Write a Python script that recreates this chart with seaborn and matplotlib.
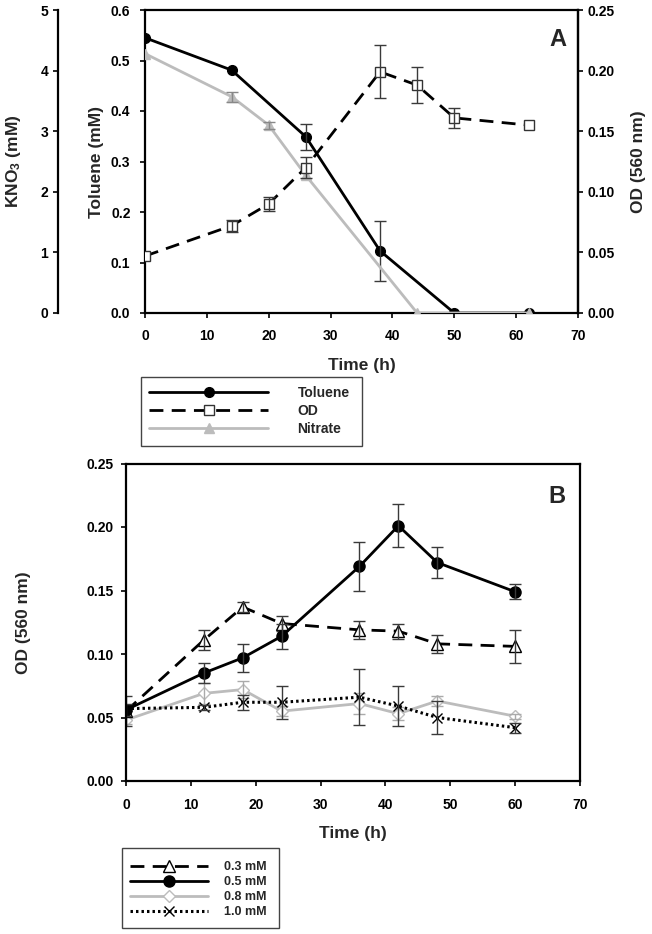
import matplotlib
matplotlib.use('Agg')
import matplotlib.pyplot as plt
import matplotlib.patches as mpatches
import numpy as np
import seaborn as sns

# ---- Panel A data ----
tol_time = [0, 14, 26, 38, 50, 62]
toluene = [0.545, 0.481, 0.349, 0.123, 0.0, 0.0]
toluene_err = [0, 0, 0.026, 0.06, 0, 0]

od_time = [0, 14, 20, 26, 38, 44, 50, 62]
od_a = [0.047, 0.072, 0.090, 0.120, 0.199, 0.188, 0.161, 0.155]
od_a_err = [0, 0.005, 0.006, 0.009, 0.022, 0.015, 0.008, 0]

nit_time = [0, 14, 20, 26, 44, 62]
nitrate = [4.28, 3.57, 3.10, 2.27, 0.0, 0.0]
nitrate_err = [0, 0.08, 0.06, 0, 0, 0]

# ---- Panel B data ----
b_time = [0, 12, 18, 24, 36, 42, 48, 60]
od_03 = [0.055, 0.111, 0.137, 0.124, 0.119, 0.118, 0.108, 0.106]
od_03_err = [0.012, 0.008, 0.004, 0.006, 0.007, 0.006, 0.007, 0.013]
od_05 = [0.056, 0.085, 0.097, 0.114, 0.169, 0.201, 0.172, 0.149]
od_05_err = [0.005, 0.008, 0.011, 0.010, 0.019, 0.017, 0.012, 0.006]
od_08 = [0.048, 0.069, 0.072, 0.055, 0.061, 0.053, 0.063, 0.051]
od_08_err = [0.003, 0.008, 0.007, 0.004, 0.008, 0.005, 0.004, 0.002]
od_10 = [0.057, 0.058, 0.062, 0.062, 0.066, 0.059, 0.050, 0.042]
od_10_err = [0.002, 0.002, 0.006, 0.013, 0.022, 0.016, 0.013, 0.004]

sns.set_theme(style='ticks')
plt.rcParams['font.family'] = ['Liberation Sans', 'DejaVu Sans']
plt.rcParams['font.weight'] = 'bold'
plt.rcParams['axes.labelweight'] = 'bold'
plt.rcParams['mathtext.fontset'] = 'custom'
plt.rcParams['mathtext.rm'] = 'Liberation Sans:bold'
plt.rcParams['mathtext.it'] = 'Liberation Sans:bold'
plt.rcParams['mathtext.bf'] = 'Liberation Sans:bold'
plt.rcParams['axes.linewidth'] = 1.6
plt.rcParams['xtick.major.width'] = 1.2
plt.rcParams['ytick.major.width'] = 1.2
plt.rcParams['xtick.major.size'] = 3.5
plt.rcParams['ytick.major.size'] = 3.5
plt.rcParams['xtick.color'] = 'black'
plt.rcParams['ytick.color'] = 'black'
plt.rcParams['axes.edgecolor'] = 'black'

GREY = '#bcbcbc'
ERR = '#3a3a3a'
TICK_FS = 10
LABEL_FS = 12.5

fig = plt.figure(figsize=(6.52, 9.34), dpi=100)


def errbars(ax, x, y, e, color=ERR, zorder=2):
    x, y, e = np.array(x), np.array(y), np.array(e)
    m = e > 0
    ax.errorbar(x[m], y[m], yerr=e[m], fmt='none', ecolor=color,
                elinewidth=1.0, capsize=4, capthick=1.0, zorder=zorder)


def legend_box(x0, y0, x1, y1):
    # frame drawn in pixel units of the 652x934 canvas
    fig.add_artist(mpatches.Rectangle((x0 / 652, 1 - y1 / 934),
                                      (x1 - x0) / 652, (y1 - y0) / 934,
                                      transform=fig.transFigure, fill=False,
                                      edgecolor='#444444', linewidth=1))


# ================= Panel A =================
ax = fig.add_axes([145 / 652, 1 - 313 / 934, 433 / 652, 303 / 934])
ax_n = ax.twinx()
ax_od = ax.twinx()

# KNO3 axis on the far left
ax_n.spines['left'].set_position(('axes', -0.201))
ax_n.spines['left'].set_visible(True)
for s in ['right', 'top', 'bottom']:
    ax_n.spines[s].set_visible(False)
ax_n.yaxis.set_ticks_position('left')
ax_n.yaxis.set_label_position('left')
for s in ['left', 'top', 'bottom']:
    ax_od.spines[s].set_visible(False)

# nitrate
sns.lineplot(x=nit_time, y=nitrate, ax=ax_n, color=GREY, linewidth=2,
             marker='^', markersize=6.5, markerfacecolor=GREY,
             markeredgecolor=GREY, markeredgewidth=1, errorbar=None)
errbars(ax_n, nit_time, nitrate, nitrate_err, color='#888888')
line_nit = ax_n.lines[0]

# toluene
sns.lineplot(x=tol_time, y=toluene, ax=ax, color='black', linewidth=2,
             marker='o', markersize=7, markerfacecolor='black',
             markeredgecolor='black', markeredgewidth=1, errorbar=None)
errbars(ax, tol_time, toluene, toluene_err)
line_tol = ax.lines[0]

# OD
sns.lineplot(x=od_time, y=od_a, ax=ax_od, color='black', linewidth=2,
             marker='s', markersize=7, markerfacecolor='white',
             markeredgecolor='#333333', markeredgewidth=1, errorbar=None)
line_od = ax_od.lines[0]
line_od.set_dashes([5, 3])
errbars(ax_od, od_time, od_a, od_a_err)

ax.set_xlim(0, 70)
ax.set_ylim(0, 0.6)
ax_n.set_ylim(0, 5)
ax_od.set_ylim(0, 0.25)
ax.set_xticks(np.arange(0, 71, 10))
ax.set_yticks(np.arange(0, 0.61, 0.1))
ax.set_yticklabels([f'{v:.1f}' for v in np.arange(0, 0.61, 0.1)])
ax_n.set_yticks(range(0, 6))
ax_od.set_yticks(np.arange(0, 0.251, 0.05))
ax_od.set_yticklabels([f'{v:.2f}' for v in np.arange(0, 0.251, 0.05)])
ax.tick_params(axis='x', labelsize=TICK_FS, pad=8)
ax.tick_params(axis='y', labelsize=TICK_FS, pad=7)
ax_n.tick_params(axis='y', labelsize=TICK_FS, pad=3.5)
ax_od.tick_params(axis='y', labelsize=TICK_FS, pad=3.5)

ax.set_xlabel('Time (h)', fontsize=LABEL_FS)
ax.set_ylabel('Toluene (mM)', fontsize=LABEL_FS)
ax_n.set_ylabel('KNO$_3$ (mM)', fontsize=LABEL_FS)
ax_od.set_ylabel('OD (560 nm)', fontsize=LABEL_FS)
ax.xaxis.set_label_coords(0.5, -0.149)
ax.yaxis.set_label_coords(-0.095, 0.5)
ax_n.yaxis.set_label_coords(-0.282, 0.5)
ax_od.yaxis.set_label_coords(1.122, 0.5)
ax.text(0.974, 0.94, 'A', transform=ax.transAxes, ha='right', va='top',
        fontsize=17, fontweight='bold')

legend_box(141, 377, 362, 446)
fig.legend([line_tol, line_od, line_nit], ['Toluene', 'OD', 'Nitrate'],
           loc='upper left', bbox_to_anchor=(149 / 652, 1 - 386 / 934),
           fontsize=10, handlelength=8.6, handletextpad=2.1,
           borderpad=0, labelspacing=0.28, numpoints=1,
           frameon=False, borderaxespad=0)

# ================= Panel B =================
bx = fig.add_axes([126 / 652, 1 - 781 / 934, 454 / 652, 317.5 / 934])

sns.lineplot(x=b_time, y=od_08, ax=bx, color=GREY, linewidth=2,
             marker='D', markersize=6.5, markerfacecolor='white',
             markeredgecolor=GREY, markeredgewidth=1, errorbar=None)
line_08 = bx.lines[-1]
errbars(bx, b_time, od_08, od_08_err, color='#aaaaaa')

sns.lineplot(x=b_time, y=od_10, ax=bx, color='black', linewidth=2.2,
             marker='x', markersize=7, markeredgecolor='black',
             markeredgewidth=1, errorbar=None)
line_10 = bx.lines[-1]
line_10.set_dashes([0.8, 1.0])
errbars(bx, b_time, od_10, od_10_err)

sns.lineplot(x=b_time, y=od_03, ax=bx, color='black', linewidth=2,
             marker='^', markersize=8, markerfacecolor='white',
             markeredgecolor='black', markeredgewidth=1, errorbar=None)
line_03 = bx.lines[-1]
line_03.set_dashes([5, 3])
errbars(bx, b_time, od_03, od_03_err)

sns.lineplot(x=b_time, y=od_05, ax=bx, color='black', linewidth=2,
             marker='o', markersize=8, markerfacecolor='black',
             markeredgecolor='black', markeredgewidth=1, errorbar=None)
line_05 = bx.lines[-1]
errbars(bx, b_time, od_05, od_05_err)

bx.set_xlim(0, 70)
bx.set_ylim(0, 0.25)
bx.set_xticks(np.arange(0, 71, 10))
bx.set_yticks(np.arange(0, 0.251, 0.05))
bx.set_yticklabels([f'{v:.2f}' for v in np.arange(0, 0.251, 0.05)])
bx.tick_params(axis='x', labelsize=TICK_FS, pad=8.5)
bx.tick_params(axis='y', labelsize=TICK_FS, pad=5.5)
bx.set_xlabel('Time (h)', fontsize=LABEL_FS)
bx.set_ylabel('OD (560 nm)', fontsize=LABEL_FS)
bx.xaxis.set_label_coords(0.5, -0.142)
bx.yaxis.set_label_coords(-0.21, 0.5)
bx.text(0.967, 0.932, 'B', transform=bx.transAxes, ha='right', va='top',
        fontsize=17, fontweight='bold')

legend_box(122, 848, 279, 928)
fig.legend([line_03, line_05, line_08, line_10],
           ['0.3 mM', '0.5 mM', '0.8 mM', '1.0 mM'],
           loc='upper left', bbox_to_anchor=(130 / 652, 1 - 861 / 934),
           fontsize=9, handlelength=6.2, handletextpad=1.36,
           borderpad=0, labelspacing=0.25, numpoints=1,
           frameon=False, borderaxespad=0)

fig.savefig('out.png', dpi=100)
